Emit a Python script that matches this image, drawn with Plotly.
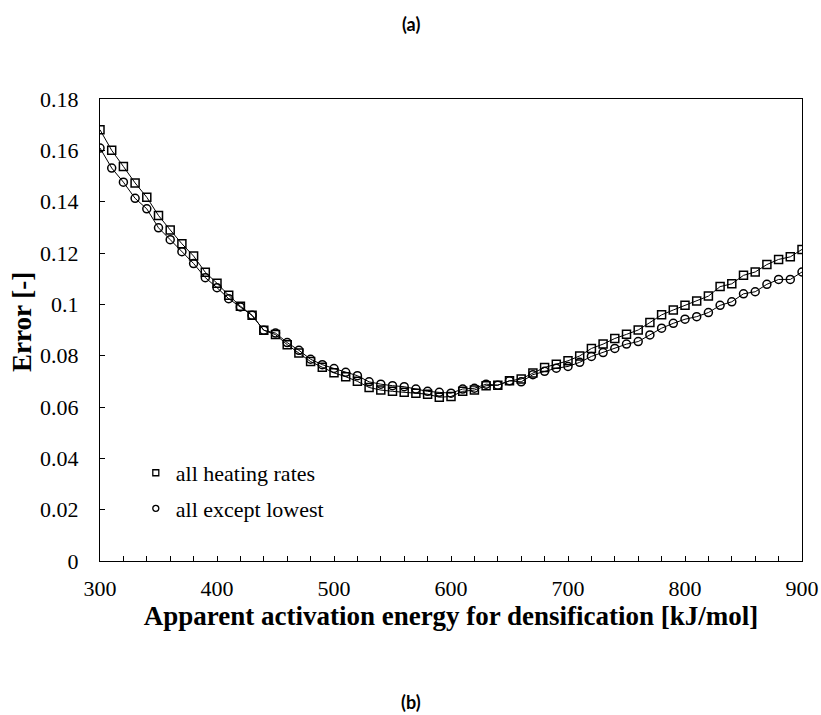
import plotly.graph_objects as go

energy = [300, 310, 320, 330, 340, 350, 360, 370, 380, 390,
          400, 410, 420, 430, 440, 450, 460, 470, 480, 490,
          500, 510, 520, 530, 540, 550, 560, 570, 580, 590,
          600, 610, 620, 630, 640, 650, 660, 670, 680, 690,
          700, 710, 720, 730, 740, 750, 760, 770, 780, 790,
          800, 810, 820, 830, 840, 850, 860, 870, 880, 890, 900]

err_all = [0.1680, 0.1600, 0.1537, 0.1473, 0.1417, 0.1346, 0.1290, 0.1236, 0.1188, 0.1125,
           0.1082, 0.1035, 0.0993, 0.0957, 0.0899, 0.0882, 0.0843, 0.0810, 0.0777, 0.0755,
           0.0733, 0.0718, 0.0700, 0.0676, 0.0666, 0.0661, 0.0657, 0.0654, 0.0650, 0.0638,
           0.0641, 0.0661, 0.0666, 0.0683, 0.0685, 0.0702, 0.0709, 0.0732, 0.0754, 0.0767,
           0.0780, 0.0799, 0.0828, 0.0845, 0.0867, 0.0883, 0.0900, 0.0929, 0.0959, 0.0978,
           0.0996, 0.1013, 0.1032, 0.1069, 0.1080, 0.1113, 0.1126, 0.1155, 0.1175, 0.1185, 0.1214]

err_except = [0.1609, 0.1531, 0.1476, 0.1413, 0.1372, 0.1298, 0.1252, 0.1205, 0.1159, 0.1104,
              0.1065, 0.1022, 0.0990, 0.0957, 0.0899, 0.0888, 0.0851, 0.0821, 0.0786, 0.0765,
              0.0750, 0.0735, 0.0722, 0.0698, 0.0689, 0.0683, 0.0679, 0.0670, 0.0661, 0.0657,
              0.0654, 0.0670, 0.0673, 0.0689, 0.0685, 0.0702, 0.0698, 0.0726, 0.0739, 0.0751,
              0.0758, 0.0774, 0.0797, 0.0812, 0.0828, 0.0845, 0.0855, 0.0881, 0.0907, 0.0926,
              0.0942, 0.0952, 0.0968, 0.0996, 0.1010, 0.1041, 0.1049, 0.1078, 0.1097, 0.1097, 0.1126]

series_names = ["all heating rates", "all except lowest"]
series_symbols = ["square-open", "circle-open"]
x_title = "Apparent activation energy for densification [kJ/mol]"
y_title = "Error [-]"
x_ticks = [300, 400, 500, 600, 700, 800, 900]
y_ticks = [0, 0.02, 0.04, 0.06, 0.08, 0.1, 0.12, 0.14, 0.16, 0.18]
y_ticktext = ["0", "0.02", "0.04", "0.06", "0.08", "0.1", "0.12", "0.14", "0.16", "0.18"]

SERIF = "Liberation Serif"
SANS = "Lato"

fig = go.Figure()

for ys, sym, name in zip((err_all, err_except), series_symbols, series_names):
    # connecting line + data markers
    fig.add_trace(go.Scatter(x=energy, y=ys, mode="lines+markers", name=name,
                             line=dict(color="black", width=1),
                             marker=dict(symbol=sym, size=8, color="black",
                                         line=dict(width=1.5, color="black")),
                             showlegend=False))
    # legend entry (smaller symbol, no line)
    fig.add_trace(go.Scatter(x=[None], y=[None], mode="markers", name=name,
                             legendgroup=name,
                             marker=dict(symbol=sym, size=6, color="black",
                                         line=dict(width=1.3, color="black")),
                             showlegend=True))

fig.update_layout(
    width=821, height=715,
    margin=dict(l=100, r=19, t=99, b=154),
    paper_bgcolor="white", plot_bgcolor="white",
    font=dict(family=SERIF, color="black"),
    showlegend=True,
    legend=dict(x=0.051, y=0.236, xanchor="left", yanchor="top",
                font=dict(family=SERIF, size=22, color="black"),
                tracegroupgap=4, itemsizing="trace",
                bgcolor="rgba(0,0,0,0)"),
    xaxis=dict(range=[300, 900], tickvals=x_ticks, ticks="inside", ticklen=5,
               tickcolor="black", showgrid=False, zeroline=False, automargin=False,
               showline=True, linecolor="black", linewidth=1, mirror=True,
               tickfont=dict(family=SERIF, size=22, color="black"),
               ticklabelstandoff=8,
               minor=dict(dtick=20, ticks="inside", ticklen=5, tickcolor="black", showgrid=False),
               title=dict(text="<b>" + x_title + "</b>",
                          font=dict(family=SERIF, size=27, color="black"), standoff=0)),
    yaxis=dict(range=[0, 0.18], tickvals=y_ticks, ticktext=y_ticktext, ticks="inside", ticklen=5,
               tickcolor="black", showgrid=False, zeroline=False, automargin=False,
               showline=True, linecolor="black", linewidth=1, mirror=True,
               tickfont=dict(family=SERIF, size=22, color="black"),
               ticklabelstandoff=16),
    annotations=[
        dict(text="<b>" + y_title + "</b>", xref="paper", yref="paper",
             x=(22 - 100) / 702, y=(561 - 322) / 462, xanchor="center", yanchor="middle",
             textangle=-90, showarrow=False,
             font=dict(family=SERIF, size=27, color="black")),
        dict(text="<b>(a)</b>", xref="paper", yref="paper", x=(411 - 100) / 702, y=1.162,
             yanchor="middle", showarrow=False, font=dict(family=SANS, size=18, color="black")),
        dict(text="<b>(b)</b>", xref="paper", yref="paper", x=(411 - 100) / 702, y=-0.305,
             yanchor="middle", showarrow=False, font=dict(family=SANS, size=18, color="black")),
    ],
)

fig.write_html("out.html")
